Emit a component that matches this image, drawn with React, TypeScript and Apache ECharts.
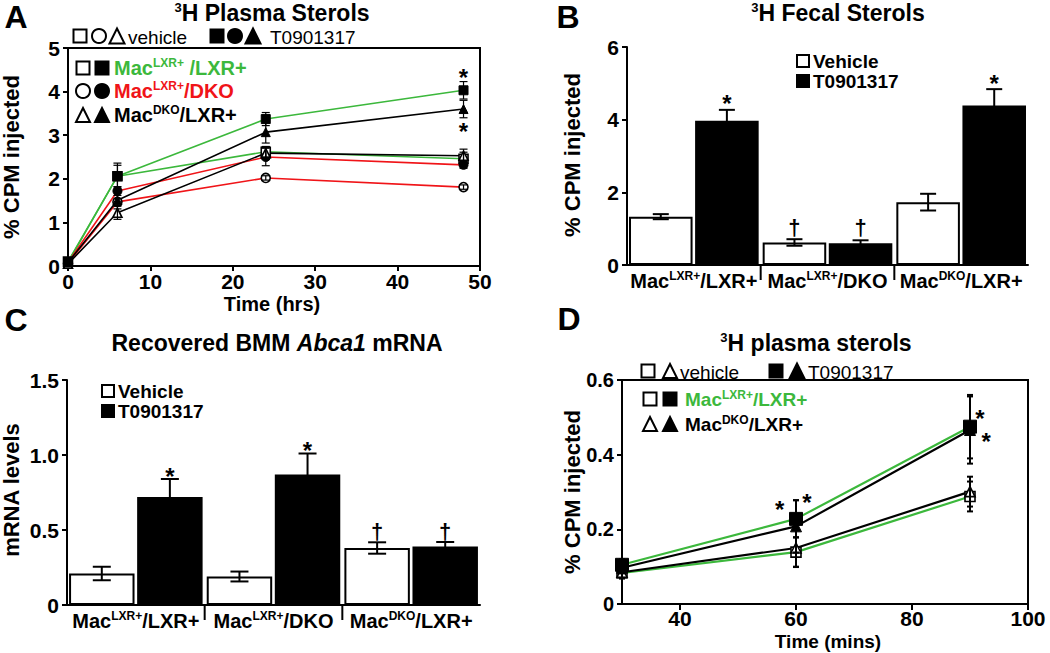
import React, { useEffect, useRef } from 'react';
import * as echarts from 'echarts';

const FF = '"Liberation Sans", Arial, Helvetica, sans-serif';
const GREEN = '#3cb83c';
const RED = '#f01418';
const BLACK = '#000000';

// ---------- Panel A : 3H plasma sterols (hrs) ----------
const timeA = [0, 6, 24, 48];
const aGreenT = [0.08, 2.06, 3.37, 4.03];
const aGreenTErr = [0.05, 0.3, 0.15, 0.2];
const aGreenV = [0.1, 2.06, 2.62, 2.46];
const aGreenVErr = [0.05, 0.25, 0.12, 0.15];
const aRedT = [0.08, 1.72, 2.5, 2.32];
const aRedTErr = [0.04, 0.1, 0.2, 0.08];
const aRedV = [0.06, 1.47, 2.02, 1.81];
const aRedVErr = [0.03, 0.08, 0.05, 0.05];
const aBlackT = [0.08, 1.51, 3.07, 3.6];
const aBlackTErr = [0.05, 0.2, 0.25, 0.2];
const aBlackV = [0.05, 1.22, 2.59, 2.53];
const aBlackVErr = [0.05, 0.15, 0.15, 0.15];
const aNotes = [[48, 4.45], [48, 3.22]];
const aNoteText = ['*', '*'];

// ---------- Panel B : fecal sterols ----------
const groups = [
  '{n|Mac}{s|LXR+}{n|/LXR+}',
  '{n|Mac}{s|LXR+}{n|/DKO}',
  '{n|Mac}{s|DKO}{n|/LXR+}',
];
const bVehicle = [1.33, 0.62, 1.73];
const bVehicleErr = [0.07, 0.09, 0.23];
const bT = [3.97, 0.6, 4.39];
const bTErr = [0.3, 0.08, 0.45];
const bNotes = [[0, 4.6, 1], [2, 5.17, 1], [1, 1.05, -1], [1, 1.05, 1]];
const bNoteText = ['*', '*', '†', '†'];

// ---------- Panel C : Abca1 mRNA ----------
const cVehicle = [0.21, 0.19, 0.38];
const cVehicleErr = [0.045, 0.033, 0.038];
const cT = [0.72, 0.87, 0.39];
const cTErr = [0.12, 0.14, 0.03];
const cNotes = [[0, 0.9, 1], [1, 1.07, 1], [2, 0.5, -1], [2, 0.5, 1]];
const cNoteText = ['*', '*', '†', '†'];

// ---------- Panel D : plasma sterols (mins) ----------
const timeD = [30, 60, 90];
const dGreenT = [0.105, 0.228, 0.475];
const dGreenTErr = [0.015, 0.05, 0.085];
const dBlackT = [0.097, 0.208, 0.466];
const dBlackTErr = [0.015, 0.07, 0.09];
const dGreenV = [0.083, 0.139, 0.288];
const dGreenVErr = [0.015, 0.04, 0.04];
const dBlackV = [0.085, 0.15, 0.301];
const dBlackVErr = [0.015, 0.05, 0.04];
const dNotes = [[57.2, 0.27], [61.9, 0.287], [91.7, 0.512], [92.8, 0.452]];
const dNoteText = ['*', '*', '*', '*'];
const dTickValues = [40, 60, 80, 100];

const CAT_GAP = 0.03;
const BAR_GAP = 0.04;

const pairs = (xs: number[], ys: number[]) => xs.map((x, i) => [x, ys[i]]);
const errRows = (xs: number[], ys: number[], es: number[]) => xs.map((x, i) => [x, ys[i], es[i]]);
const barErrRows = (ys: number[], es: number[], side: number) => ys.map((y, i) => [i, y, es[i], side]);

const axisBase = (extra: any = {}) => {
  const o: any = {
    axisLine: { show: true, onZero: false, lineStyle: { color: BLACK, width: 2 } },
    axisTick: { show: true, length: 5, lineStyle: { color: BLACK, width: 2 } },
    axisLabel: { color: BLACK, fontFamily: FF, fontWeight: 'bold', fontSize: 20, margin: 8 },
    splitLine: { show: false },
  };
  for (const k of Object.keys(extra)) {
    if (o[k] && typeof o[k] === 'object' && typeof extra[k] === 'object') o[k] = { ...o[k], ...extra[k] };
    else o[k] = extra[k];
  }
  return o;
};

const axRich = {
  n: { fontFamily: FF, fontWeight: 'bold', fontSize: 20, color: BLACK, lineHeight: 22 },
  s: { fontFamily: FF, fontWeight: 'bold', fontSize: 12, color: BLACK, verticalAlign: 'top' },
};

const gRich = (size: number, sup: number, weight = 'bold') => ({
  n: { fontSize: size, fontWeight: weight, fontFamily: FF, lineHeight: size + 2 },
  s: { fontSize: sup, fontWeight: weight, fontFamily: FF, verticalAlign: 'top' },
  i: { fontSize: size, fontWeight: weight, fontStyle: 'italic', fontFamily: FF, lineHeight: size + 2 },
});

const lineSeries = (axis: number, xs: number[], ys: number[], color: string, symbol: string, size: number, filled: boolean, lw: number) => ({
  type: 'line',
  xAxisIndex: axis,
  yAxisIndex: axis,
  data: pairs(xs, ys),
  symbol,
  symbolSize: size,
  showSymbol: true,
  silent: true,
  z: 3,
  lineStyle: { color, width: lw },
  itemStyle: filled
    ? { color: BLACK, borderColor: BLACK, borderWidth: 1 }
    : { color: '#ffffff', borderColor: BLACK, borderWidth: 1.6 },
});

const errSeries = (axis: number, rows: number[][], cap: number, lw: number) => ({
  type: 'custom',
  xAxisIndex: axis,
  yAxisIndex: axis,
  data: rows,
  silent: true,
  z: 4,
  encode: { x: 0, y: 1 },
  renderItem: (_p: any, api: any) => {
    const x = api.value(0), y = api.value(1), e = api.value(2);
    const t = api.coord([x, y + e]);
    const b = api.coord([x, y - e]);
    const st = { stroke: BLACK, lineWidth: lw };
    return {
      type: 'group',
      children: [
        { type: 'line', shape: { x1: t[0], y1: t[1], x2: b[0], y2: b[1] }, style: st },
        { type: 'line', shape: { x1: t[0] - cap, y1: t[1], x2: t[0] + cap, y2: t[1] }, style: st },
        { type: 'line', shape: { x1: b[0] - cap, y1: b[1], x2: b[0] + cap, y2: b[1] }, style: st },
      ],
    };
  },
});

const barX = (api: any, cat: number, y: number, side: number) => {
  const c = api.coord([cat, y]);
  const band = api.size([1, 0])[0];
  const w = (band * (1 - CAT_GAP)) / (2 + BAR_GAP);
  return [c[0] + (side * (w + BAR_GAP * w)) / 2, c[1]];
};

const barErrSeries = (axis: number, rows: number[][], cap: number) => ({
  type: 'custom',
  xAxisIndex: axis,
  yAxisIndex: axis,
  data: rows,
  silent: true,
  z: 5,
  encode: { x: 0, y: 1 },
  renderItem: (_p: any, api: any) => {
    const cat = api.value(0), y = api.value(1), e = api.value(2), side = api.value(3);
    const t = barX(api, cat, y + e, side);
    const b = barX(api, cat, y - e, side);
    const st = { stroke: BLACK, lineWidth: 2 };
    return {
      type: 'group',
      children: [
        { type: 'line', shape: { x1: t[0], y1: t[1], x2: b[0], y2: b[1] }, style: st },
        { type: 'line', shape: { x1: t[0] - cap, y1: t[1], x2: t[0] + cap, y2: t[1] }, style: st },
        { type: 'line', shape: { x1: b[0] - cap, y1: b[1], x2: b[0] + cap, y2: b[1] }, style: st },
      ],
    };
  },
});

const glyphShift = (s: string) => (s === '*' ? 6 : 1);

const noteText = (x: number, y: number, s: string) => ({
  type: 'text',
  x,
  y: y + glyphShift(s),
  style: {
    text: s,
    font: `bold ${s === '*' ? 24 : 22}px ${FF}`,
    fill: BLACK,
    align: 'center',
    verticalAlign: 'middle',
    textAlign: 'center',
    textVerticalAlign: 'middle',
  },
});

const lineNotes = (axis: number, rows: number[][], texts: string[]) => ({
  type: 'custom',
  xAxisIndex: axis,
  yAxisIndex: axis,
  data: rows,
  silent: true,
  z: 6,
  encode: { x: 0, y: 1 },
  renderItem: (p: any, api: any) => {
    const c = api.coord([api.value(0), api.value(1)]);
    return noteText(c[0], c[1], texts[p.dataIndex]);
  },
});

const barNotes = (axis: number, rows: number[][], texts: string[]) => ({
  type: 'custom',
  xAxisIndex: axis,
  yAxisIndex: axis,
  data: rows,
  silent: true,
  z: 6,
  encode: { x: 0, y: 1 },
  renderItem: (p: any, api: any) => {
    const c = barX(api, api.value(0), api.value(1), api.value(2));
    return noteText(c[0], c[1], texts[p.dataIndex]);
  },
});

const separators = (axis: number) => ({
  type: 'custom',
  xAxisIndex: axis,
  yAxisIndex: axis,
  data: groups.slice(1).map((_, i) => [i + 1, 0]),
  silent: true,
  z: 6,
  encode: { x: 0, y: 1 },
  renderItem: (_p: any, api: any) => {
    const c = api.coord([api.value(0), 0]);
    const band = api.size([1, 0])[0];
    const x = c[0] - band / 2;
    return { type: 'line', shape: { x1: x, y1: c[1], x2: x, y2: c[1] + 15 }, style: { stroke: BLACK, lineWidth: 2 } };
  },
});

const barSeries = (axis: number, ys: number[], filled: boolean) => ({
  type: 'bar',
  xAxisIndex: axis,
  yAxisIndex: axis,
  data: ys,
  silent: true,
  barCategoryGap: `${CAT_GAP * 100}%`,
  barGap: `${BAR_GAP * 100}%`,
  z: 2,
  itemStyle: filled
    ? { color: BLACK, borderColor: BLACK, borderWidth: 2 }
    : { color: '#ffffff', borderColor: BLACK, borderWidth: 2 },
});

// ---------- graphic helpers ----------
const mStyle = (filled: boolean) => ({ fill: filled ? BLACK : '#ffffff', stroke: BLACK, lineWidth: 2 });
const sq = (cx: number, cy: number, s: number, filled: boolean) => ({
  type: 'rect', silent: true, shape: { x: cx - s / 2, y: cy - s / 2, width: s, height: s }, style: mStyle(filled),
});
const ci = (cx: number, cy: number, r: number, filled: boolean) => ({
  type: 'circle', silent: true, shape: { cx, cy, r }, style: mStyle(filled),
});
const tri = (cx: number, cy: number, s: number, filled: boolean) => ({
  type: 'polygon', silent: true,
  shape: { points: [[cx, cy - s / 2], [cx + s / 2, cy + s / 2], [cx - s / 2, cy + s / 2]] },
  style: mStyle(filled),
});
const txt = (x: number, y: number, text: string, o: any = {}) => ({
  type: 'text',
  x,
  y,
  rotation: o.rot || 0,
  silent: true,
  style: {
    text,
    rich: o.rich,
    font: o.font || `bold 20px ${FF}`,
    fill: o.fill || BLACK,
    align: o.align || 'left',
    textAlign: o.align || 'left',
    verticalAlign: 'middle',
    textVerticalAlign: 'middle',
  },
});

const buildOption = () => {
  const legRich = gRich(20, 12);
  const legRich19 = gRich(19, 12);
  const titleRich = gRich(23, 13);
  const graphic: any[] = [
    // panel letters
    txt(16, 17, 'A', { font: `bold 32px ${FF}`, align: 'center' }),
    txt(568, 17, 'B', { font: `bold 32px ${FF}`, align: 'center' }),
    txt(16, 320, 'C', { font: `bold 32px ${FF}`, align: 'center' }),
    txt(569, 319, 'D', { font: `bold 32px ${FF}`, align: 'center' }),
    // titles
    txt(272, 13, '{s|3}{n|H Plasma Sterols}', { rich: titleRich, align: 'center' }),
    txt(838, 13, '{s|3}{n|H Fecal Sterols}', { rich: titleRich, align: 'center' }),
    txt(277, 343, '{n|Recovered BMM }{i|Abca1}{n| mRNA}', { rich: titleRich, align: 'center' }),
    txt(816, 343, '{s|3}{n|H plasma sterols}', { rich: titleRich, align: 'center' }),
    // y axis names
    txt(11, 157, '% CPM injected', { font: `bold 22px ${FF}`, rot: Math.PI / 2, align: 'center' }),
    txt(572, 155, '% CPM injected', { font: `bold 22px ${FF}`, rot: Math.PI / 2, align: 'center' }),
    txt(11, 490, 'mRNA levels', { font: `bold 22px ${FF}`, rot: Math.PI / 2, align: 'center' }),
    txt(572, 492, '% CPM injected', { font: `bold 22px ${FF}`, rot: Math.PI / 2, align: 'center' }),
    // x axis names
    txt(272, 304, 'Time (hrs)', { font: `bold 20px ${FF}`, align: 'center' }),
    txt(828, 641, 'Time (mins)', { font: `bold 19px ${FF}`, align: 'center' }),

    // Panel A treatment legend row
    sq(80, 36, 13, false), ci(99, 36, 7, false), tri(117, 36, 15, false),
    txt(128, 37, 'vehicle', { font: `19px ${FF}` }),
    sq(217, 36, 13, true), ci(235, 36, 7, true), tri(253, 36, 15, true),
    txt(270, 37, 'T0901317', { font: `19px ${FF}` }),
    // Panel A genotype legend
    sq(83, 68, 13, false), sq(102, 68, 13, true),
    txt(114, 68, '{n|Mac}{s|LXR+}{n| /LXR+}', { rich: legRich, fill: GREEN }),
    ci(83, 91, 7, false), ci(102, 91, 7, true),
    txt(114, 91, '{n|Mac}{s|LXR+}{n|/DKO}', { rich: legRich, fill: RED }),
    tri(83, 115, 14, false), tri(102, 115, 14, true),
    txt(114, 115, '{n|Mac}{s|DKO}{n|/LXR+}', { rich: legRich, fill: BLACK }),

    // Panel B legend
    sq(803, 61, 12, false), txt(813, 61, 'Vehicle', { font: `bold 19px ${FF}` }),
    sq(803, 81, 12, true), txt(813, 81, 'T0901317', { font: `bold 19px ${FF}` }),

    // Panel C legend
    sq(108, 391, 12, false), txt(118, 391, 'Vehicle', { font: `bold 19px ${FF}` }),
    sq(108, 411, 12, true), txt(118, 411, 'T0901317', { font: `bold 19px ${FF}` }),

    // Panel D treatment legend row
    sq(648, 371, 13, false), tri(670, 371, 14, false),
    txt(680, 372, 'vehicle', { font: `19px ${FF}` }),
    sq(776, 371, 13, true), tri(797, 371, 15, true),
    txt(808, 372, 'T0901317', { font: `19px ${FF}` }),
    // Panel D genotype legend
    sq(650, 399, 13, false), sq(670, 399, 13, true),
    txt(685, 399, '{n|Mac}{s|LXR+}{n|/LXR+}', { rich: legRich19, fill: GREEN }),
    tri(650, 424, 14, false), tri(670, 424, 14, true),
    txt(685, 424, '{n|Mac}{s|DKO}{n|/LXR+}', { rich: legRich19, fill: BLACK }),
  ];

  return {
    animation: false,
    backgroundColor: '#ffffff',
    textStyle: { fontFamily: FF },
    grid: [
      { left: 68, top: 48, width: 412, height: 218, show: true, borderColor: BLACK, borderWidth: 2, backgroundColor: 'transparent' },
      { left: 627, top: 47, width: 401, height: 218 },
      { left: 67, top: 380, width: 413, height: 225 },
      { left: 622, top: 380, width: 406, height: 224, show: true, borderColor: BLACK, borderWidth: 2, backgroundColor: 'transparent' },
    ],
    xAxis: [
      axisBase({ gridIndex: 0, type: 'value', min: 0, max: 50, interval: 10, axisLabel: { fontSize: 21, margin: 5 } }),
      axisBase({
        gridIndex: 1, type: 'category', data: groups,
        axisTick: { show: false },
        axisLabel: { interval: 0, margin: 5, rich: axRich, hideOverlap: false },
      }),
      axisBase({
        gridIndex: 2, type: 'category', data: groups,
        axisTick: { show: false },
        axisLabel: { interval: 0, margin: 5, rich: axRich, hideOverlap: false },
      }),
      axisBase({
        gridIndex: 3, type: 'value', min: 30, max: 100, interval: 10,
        axisTick: { customValues: dTickValues, length: 6 },
        axisLabel: { customValues: dTickValues, margin: 4, fontSize: 21 },
      }),
    ],
    yAxis: [
      axisBase({ gridIndex: 0, type: 'value', min: 0, max: 5, interval: 1, axisLabel: { fontSize: 21 } }),
      axisBase({ gridIndex: 1, type: 'value', min: 0, max: 6, interval: 2, axisLabel: { fontSize: 21 } }),
      axisBase({
        gridIndex: 2, type: 'value', min: 0, max: 1.5, interval: 0.5,
        axisLabel: { fontSize: 21, formatter: (v: number) => (v === 0 ? '0' : v.toFixed(1)) },
      }),
      axisBase({
        gridIndex: 3, type: 'value', min: 0, max: 0.6, interval: 0.2,
        axisLabel: { fontSize: 20, formatter: (v: number) => (v === 0 ? '0' : v.toFixed(1)) },
      }),
    ],
    graphic,
    series: [
      // Panel A
      lineSeries(0, timeA, aGreenV, GREEN, 'rect', 9, false, 1.6),
      lineSeries(0, timeA, aGreenT, GREEN, 'rect', 9, true, 1.6),
      lineSeries(0, timeA, aRedV, RED, 'circle', 9, false, 1.6),
      lineSeries(0, timeA, aRedT, RED, 'circle', 9, true, 1.6),
      lineSeries(0, timeA, aBlackV, BLACK, 'triangle', 9, false, 1.6),
      lineSeries(0, timeA, aBlackT, BLACK, 'triangle', 9, true, 1.6),
      errSeries(0, [
        ...errRows(timeA, aGreenV, aGreenVErr),
        ...errRows(timeA, aGreenT, aGreenTErr),
        ...errRows(timeA, aRedV, aRedVErr),
        ...errRows(timeA, aRedT, aRedTErr),
        ...errRows(timeA, aBlackV, aBlackVErr),
        ...errRows(timeA, aBlackT, aBlackTErr),
      ], 4, 1.2),
      lineNotes(0, aNotes, aNoteText),

      // Panel B
      barSeries(1, bVehicle, false),
      barSeries(1, bT, true),
      barErrSeries(1, [...barErrRows(bVehicle, bVehicleErr, -1), ...barErrRows(bT, bTErr, 1)], 8),
      barNotes(1, bNotes, bNoteText),
      separators(1),

      // Panel C
      barSeries(2, cVehicle, false),
      barSeries(2, cT, true),
      barErrSeries(2, [...barErrRows(cVehicle, cVehicleErr, -1), ...barErrRows(cT, cTErr, 1)], 9),
      barNotes(2, cNotes, cNoteText),
      separators(2),

      // Panel D
      lineSeries(3, timeD, dGreenV, GREEN, 'rect', 10, false, 2.2),
      lineSeries(3, timeD, dBlackV, BLACK, 'triangle', 10, false, 2.2),
      lineSeries(3, timeD, dGreenT, GREEN, 'rect', 13, true, 2.2),
      lineSeries(3, timeD, dBlackT, BLACK, 'triangle', 11, true, 2.2),
      errSeries(3, [
        ...errRows(timeD, dGreenV, dGreenVErr),
        ...errRows(timeD, dBlackV, dBlackVErr),
        ...errRows(timeD, dGreenT, dGreenTErr),
        ...errRows(timeD, dBlackT, dBlackTErr),
      ], 3, 2),
      lineNotes(3, dNotes, dNoteText),
    ],
  };
};

export default function App() {
  const ref = useRef<HTMLDivElement>(null);
  useEffect(() => {
    if (!ref.current) return;
    const chart = echarts.init(ref.current, null, { renderer: 'svg' });
    chart.setOption(buildOption() as any);
    return () => chart.dispose();
  }, []);
  return (
    <div
      ref={ref}
      style={{ position: 'fixed', left: 0, top: 0, width: 1050, height: 653, background: '#ffffff' }}
    />
  );
}
